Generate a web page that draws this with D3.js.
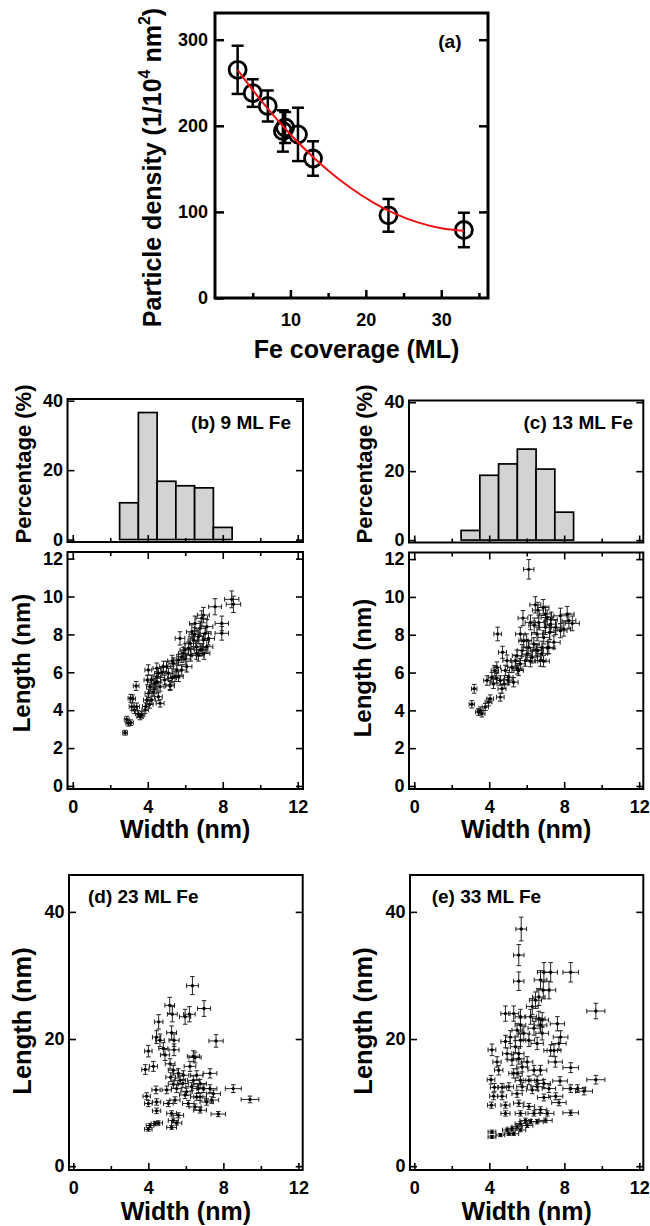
<!DOCTYPE html>
<html><head><meta charset="utf-8">
<script src="https://cdn.jsdelivr.net/npm/d3@7/dist/d3.min.js"></script>
<style>
body{margin:0;background:#fff}
svg text{font-family:"Liberation Sans",Arial,Helvetica,sans-serif;font-weight:bold;fill:#000}
</style></head><body>
<svg id="chart" width="650" height="1226"></svg>
<script>
// ---------- DATA ----------
// (a) particle density vs Fe coverage
const coverageML = [3, 5, 7, 9, 9.3, 11, 13, 23, 33];
const densityVal = [265, 238, 223, 194, 198, 190, 162, 96, 79];
const densityErr = [28, 16, 18, 24, 18, 31, 20, 19, 20];
const fitCoverage = [3, 5, 7, 9, 11, 13, 15, 18, 21, 24, 27, 30, 33];
const fitDensity = [265, 241.6, 219.9, 199.6, 180.9, 163.8, 148.2, 127.8, 110.9, 97.5, 87.5, 81.1, 78.2];
const densityTicks = [0, 100, 200, 300];
const coverageTicks = [10, 20, 30];
const coverageMinor = [5, 15, 25, 35];

// width histograms (bin centre in nm, percentage)
const histBins9 = [1, 2, 3, 4, 5, 6, 7, 8, 9];
const histPct9 = [0, 0, 10.6, 36.6, 16.8, 15.5, 14.9, 3.5, 0];
const histBins13 = [1, 2, 3, 4, 5, 6, 7, 8, 9, 10];
const histPct13 = [0, 0, 2.8, 18.8, 22.1, 26.4, 20.6, 8.1, 0, 0];
const pctTicks = [0, 20, 40];

const widthTicks = [0, 4, 8, 12];
const widthMinor = [2, 6, 10];
const lengthTicksSmall = [0, 2, 4, 6, 8, 10, 12];
const lengthTicksLarge = [0, 20, 40];

// relative measurement uncertainty on width & length
const relErrSmall = 0.045;
const relErrLarge = 0.05;

// (b) 9 ML Fe : [width, length] nm
const points9 = [
[2.79,2.81],[2.88,3.52],[2.97,3.31],[3.09,3.34],[3.09,4.63],[3.38,5.28],
[3.15,4.19],[3.41,4.19],[3.68,3.75],[3.59,3.66],[3.86,4.01],
[4.03,6.12],[4.48,6.21],
[3.95,4.54],[4.04,4.89],[4.12,5.24],[3.98,5.59],[4.30,4.96],[4.39,5.42],[4.48,5.77],[4.57,5.95],[4.21,4.54],[4.57,4.71],[4.66,5.24],[4.66,4.36],
[4.84,6.30],[5.10,5.95],[5.19,5.33],[5.46,5.77],[5.55,6.12],[5.37,6.47],[5.64,6.65],[5.81,6.82],[5.81,6.12],[5.90,7.00],[5.72,7.79],[5.99,7.18],[6.08,6.30],[6.17,7.27],[6.26,7.53],[6.35,8.14],[6.44,7.70],[6.52,8.58],[6.61,7.35],[6.70,7.88],[6.79,8.32],[6.79,7.18],[6.88,8.85],[6.97,7.70],[6.97,9.02],[7.06,8.06],[7.15,7.35],[7.24,7.79],[7.15,8.41],
[7.59,9.46],[7.95,8.58],[7.95,8.06],[8.48,9.85],[8.57,9.59],[5.64,5.77],[5.19,5.28],
[4.2,5.6],[4.35,5.1],[4.5,5.5],[4.1,4.3],[3.9,4.2],[4.75,6.0],[5.0,6.3],[5.3,6.6],[6.6,7.0],[6.9,7.2],[7.0,7.0],[6.7,6.9],[6.5,8.0],[6.3,6.9],[6.0,6.7],[4.9,5.6],[5.3,5.7],[3.3,4.0],[3.2,4.6],[3.5,3.8]
];
// (c) 13 ML Fe
const points13 = [
[6.11,11.46],[4.45,8.04],[4.71,7.07],[3.20,5.14],[3.07,4.32],
[3.43,3.91],[3.61,3.82],[3.52,4.0],[3.79,4.18],[3.96,4.44],[4.05,4.61],
[3.88,5.58],[4.14,5.75],[4.41,6.28],[4.23,5.40],[4.59,5.58],[4.68,5.14],[4.59,4.70],[4.86,6.11],[4.95,6.63],[5.04,5.75],[5.21,6.28],[5.30,5.49],[5.39,6.63],[5.48,6.89],[5.57,6.11],[5.66,6.46],[5.66,8.04],[5.75,7.16],[5.80,8.88],[5.84,7.68],[5.93,6.63],[6.02,6.98],[6.11,7.33],[6.20,8.65],[6.29,6.81],[6.38,7.51],[6.46,9.58],[6.55,8.04],[6.59,7.16],[6.64,8.65],[6.73,6.63],[6.82,7.33],[6.88,9.44],[6.91,7.86],[7.00,8.39],[7.09,8.91],[7.18,7.33],[7.23,8.12],[7.27,8.56],[7.45,7.60],[7.54,8.39],[7.80,9.00],[7.98,8.30],[8.16,9.09],[8.25,8.74],[8.43,8.60],[7.80,8.21],
[6.8,7.0],[6.9,6.6],[7.1,7.3],[6.5,7.2],[6.2,6.6],[5.5,6.2],[5.0,5.6],[4.8,5.4],[4.4,5.7],[4.3,6.1],[7.3,8.8],[7.0,9.1],[6.6,9.3],[6.4,8.5],[6.0,7.7]
];
// (d) 23 ML Fe
const points23 = [
[6.35,28.4],[5.14,25.3],[5.28,23.9],[5.96,23.5],[6.19,23.9],[6.97,24.8],
[4.55,22.7],[4.44,20.3],[4.62,19.8],[4.0,18.1],[5.24,21.0],[5.37,19.8],[5.37,18.3],[4.80,18.5],[4.89,17.5],[7.61,19.7],
[3.84,15.2],[4.27,15.7],[6.40,17.3],[6.49,17.1],[6.22,15.7],[5.16,16.1],[5.33,15.1],
[7.29,14.6],[8.53,12.2],[9.42,10.5],[7.73,8.2],[6.76,8.8],
[3.91,11.0],[4.0,9.86],[4.41,12.0],[4.44,10.1],[4.98,12.0],[5.07,9.86],[5.42,10.4],[5.51,12.2],[5.69,13.5],[5.87,14.3],[5.60,14.6],[6.04,11.7],[6.31,12.5],[6.58,14.3],[6.67,12.2],[6.76,10.9],[6.93,12.2],[7.29,12.2],[7.38,10.4],[7.47,11.4],[7.11,10.1],[6.13,9.86],[6.49,9.33],[5.33,12.9],[5.19,14.0],[5.84,13.0],[6.40,13.5],[6.76,13.0],[5.96,11.2],[6.58,10.9],
[4.09,6.4],[4.36,6.7],[4.53,6.8],[4.0,5.8],[5.24,8.3],[5.33,7.2],[5.60,8.0],[5.24,6.1],[5.51,6.8],[4.44,8.7]
];
// (e) 33 ML Fe
const points33 = [
[5.70,37.3],[5.57,33.2],[5.57,29.1],[8.34,30.5],[9.68,24.4],[9.68,13.6],
[6.91,30.5],[7.27,30.5],[6.73,29.3],[6.88,27.7],[7.18,27.7],[6.64,26.6],[6.46,26.1],[6.29,25.1],
[4.86,24.0],[5.30,24.0],[5.66,23.5],[6.20,23.5],[6.64,23.2],[6.82,23.0],[7.63,22.4],[7.80,20.3],[7.71,19.3],[7.45,18.2],[7.27,18.2],[7.52,16.4],[8.34,15.5],
[4.14,18.3],[4.86,19.6],[5.12,20.3],[5.48,21.4],[5.84,20.9],[6.11,19.8],[6.55,19.3],[6.82,20.9],[6.38,21.7],[6.73,22.2],[5.66,22.2],
[4.41,16.4],[4.50,15.1],[4.95,17.7],[5.21,16.7],[5.57,16.9],[5.75,15.6],[6.02,16.4],[6.38,15.1],[6.73,15.1],[5.48,14.6],[5.66,13.5],[6.11,13.5],[6.55,13.5],[6.91,13.0],[7.18,12.2],[7.77,13.4],[8.34,12.2],[8.70,12.2],[9.05,11.8],
[4.09,13.6],[4.27,12.4],[4.68,12.4],[5.04,12.5],[4.23,11.0],[4.68,11.0],[5.48,11.4],[6.29,12.0],[6.55,12.5],[6.91,10.8],[7.54,11.0],[7.71,10.0],
[4.11,9.6],[4.86,9.6],[4.86,8.3],[5.57,9.9],[6.11,9.4],[6.73,8.9],[7.09,8.3],[8.34,8.4],
[4.14,5.4],[4.14,4.6],[4.59,4.9],[4.95,5.7],[5.21,5.9],[5.48,6.2],[5.66,6.7],[5.93,7.2],[6.20,7.0],[6.55,7.0],[7.00,7.2],[5.30,5.1],[5.66,5.7],[6.02,6.4],[5.04,5.1],[6.38,8.3],[5.66,8.3],
[5.39,18.8],[5.57,17.7],[5.30,14.6],[5.75,12.5],[5.66,19.8]
];

// ---------- DRAWING ----------
const svg = d3.select("#chart");
const TICK_FS = 18;

function styleAxis(g, fs) {
  g.attr("font-family", null).attr("font-size", null);
  g.select(".domain").remove();
  g.selectAll("text").style("font-size", fs + "px");
}

function frame(box, sw) {
  svg.append("rect").attr("x", box.l).attr("y", box.t)
    .attr("width", box.r - box.l).attr("height", box.b - box.t)
    .attr("fill", "none").attr("stroke", "#000").attr("stroke-width", sw);
}

// ---- Panel (a) ----
(function () {
  const box = {l: 215, r: 488, t: 13, b: 298};
  const x = d3.scaleLinear().domain([0, 36.2]).range([box.l, box.r]);
  const y = d3.scaleLinear().domain([0, 331]).range([box.b, box.t]);
  const tw = 2.5;
  let g = svg.append("g").attr("transform", `translate(0,${box.b})`)
    .call(d3.axisBottom(x).tickValues(coverageTicks).tickSize(-8).tickPadding(15).tickFormat(d3.format("d")));
  styleAxis(g, TICK_FS); g.selectAll("line").attr("stroke-width", tw);
  g = svg.append("g").attr("transform", `translate(0,${box.b})`)
    .call(d3.axisBottom(x).tickValues(coverageMinor).tickSize(-5).tickFormat(""));
  styleAxis(g, TICK_FS); g.selectAll("line").attr("stroke-width", tw);
  g = svg.append("g").attr("transform", `translate(${box.l},0)`)
    .call(d3.axisLeft(y).tickValues(densityTicks).tickSize(-9).tickPadding(7).tickFormat(d3.format("d")));
  styleAxis(g, TICK_FS); g.selectAll("line").attr("stroke-width", tw);
  g = svg.append("g").attr("transform", `translate(${box.r},0)`)
    .call(d3.axisRight(y).tickValues(densityTicks.slice(1)).tickSize(-9).tickFormat(""));
  styleAxis(g, TICK_FS); g.selectAll("line").attr("stroke-width", tw);

  // error bars
  const eb = svg.append("g").attr("stroke", "#000").attr("stroke-width", 2.5);
  coverageML.forEach((c, i) => {
    const cx = x(c), v = densityVal[i], e = densityErr[i];
    eb.append("line").attr("x1", cx).attr("x2", cx).attr("y1", y(v + e)).attr("y2", y(v - e));
    eb.append("line").attr("x1", cx - 6).attr("x2", cx + 6).attr("y1", y(v + e)).attr("y2", y(v + e));
    eb.append("line").attr("x1", cx - 6).attr("x2", cx + 6).attr("y1", y(v - e)).attr("y2", y(v - e));
  });
  svg.append("g").selectAll("circle").data(coverageML).join("circle")
    .attr("cx", d => x(d)).attr("cy", (d, i) => y(densityVal[i])).attr("r", 8.5)
    .attr("fill", "none").attr("stroke", "#000").attr("stroke-width", 2.8);
  const line = d3.line().x(d => x(d[0])).y(d => y(d[1])).curve(d3.curveMonotoneX);
  svg.append("path").datum(fitCoverage.map((c, i) => [c, fitDensity[i]]))
    .attr("d", line).attr("fill", "none").attr("stroke", "#ee1111").attr("stroke-width", 2);
  frame(box, 3);

  svg.append("text").attr("x", 461.5).attr("y", 48).attr("text-anchor", "end")
    .style("font-size", "19px").text("(a)");
  svg.append("text").attr("x", 356.5).attr("y", 358).attr("text-anchor", "middle")
    .style("font-size", "25px").text("Fe coverage (ML)");
  const yl = svg.append("text").attr("transform", "translate(161,167.5) rotate(-90)")
    .attr("text-anchor", "middle").style("font-size", "25px");
  yl.append("tspan").text("Particle density (1/10");
  yl.append("tspan").attr("dy", -11).style("font-size", "16px").text("4");
  yl.append("tspan").attr("dy", 11).text(" nm");
  yl.append("tspan").attr("dy", -11).style("font-size", "16px").text("2");
  yl.append("tspan").attr("dy", 11).text(")");
})();

// ---- generic axis builder for b-e ----
function axes(x, y, box, yTicks, yLabels, opts) {
  const tl = 7, tm = 4;
  let g = svg.append("g").attr("transform", `translate(0,${box.b})`)
    .call(d3.axisBottom(x).tickValues(widthTicks).tickSize(-tl).tickPadding(opts.xPad)
      .tickFormat(opts.xLabels ? d3.format("d") : ""));
  styleAxis(g, TICK_FS); g.selectAll("line").attr("stroke-width", 1.6);
  g = svg.append("g").attr("transform", `translate(0,${box.b})`)
    .call(d3.axisBottom(x).tickValues(widthMinor).tickSize(-tm).tickFormat(""));
  styleAxis(g, TICK_FS); g.selectAll("line").attr("stroke-width", 1.6);
  if (opts.top) {
    g = svg.append("g").attr("transform", `translate(0,${box.t})`)
      .call(d3.axisTop(x).tickValues(widthTicks).tickSize(-tl).tickFormat(""));
    styleAxis(g, TICK_FS); g.selectAll("line").attr("stroke-width", 1.6);
    g = svg.append("g").attr("transform", `translate(0,${box.t})`)
      .call(d3.axisTop(x).tickValues(widthMinor).tickSize(-tm).tickFormat(""));
    styleAxis(g, TICK_FS); g.selectAll("line").attr("stroke-width", 1.6);
  }
  g = svg.append("g").attr("transform", `translate(${box.l},0)`)
    .call(d3.axisLeft(y).tickValues(yTicks).tickSize(-tl).tickPadding(4.5)
      .tickFormat(d => yLabels.includes(d) ? d : ""));
  styleAxis(g, TICK_FS); g.selectAll("line").attr("stroke-width", 1.6);
  g = svg.append("g").attr("transform", `translate(${box.r},0)`)
    .call(d3.axisRight(y).tickValues(yTicks).tickSize(-tl).tickFormat(""));
  styleAxis(g, TICK_FS); g.selectAll("line").attr("stroke-width", 1.6);
}

function histogram(box, xDom, bins, pct, label, lx) {
  const x = d3.scaleLinear().domain(xDom).range([box.l, box.r]);
  const y = d3.scaleLinear().domain([-0.7, 40.5]).range([box.b, box.t]);
  svg.append("g").selectAll("rect").data(bins).join("rect")
    .attr("x", d => x(d - 0.5)).attr("width", d => x(d + 0.5) - x(d - 0.5))
    .attr("y", (d, i) => y(pct[i])).attr("height", (d, i) => y(0) - y(pct[i]))
    .attr("fill", "#d3d3d3").attr("stroke", "#000").attr("stroke-width", 1.7);
  axes(x, y, box, pctTicks, pctTicks, {xPad: 0, xLabels: false, top: false});
  frame(box, 2);
  svg.append("text").attr("x", lx).attr("y", 429).attr("text-anchor", "end")
    .style("font-size", "19px").text(label);
  svg.append("text").attr("transform", `translate(${box.l - 37},464) rotate(-90)`)
    .attr("text-anchor", "middle").style("font-size", "22px").text("Percentage (%)");
}

function scatter(box, xDom, yDom, pts, relErr, yTicks, yLabels, opts) {
  const x = d3.scaleLinear().domain(xDom).range([box.l, box.r]);
  const y = d3.scaleLinear().domain(yDom).range([box.b, box.t]);
  const cap = 2.3;
  const g = svg.append("g").attr("stroke", "#222").attr("stroke-width", 1);
  pts.forEach(([w, l]) => {
    const px = x(w), py = y(l);
    const x0 = x(w * (1 - relErr)), x1 = x(w * (1 + relErr));
    const y0 = y(l * (1 - relErr)), y1 = y(l * (1 + relErr));
    g.append("line").attr("x1", x0).attr("x2", x1).attr("y1", py).attr("y2", py);
    g.append("line").attr("x1", x0).attr("x2", x0).attr("y1", py - cap).attr("y2", py + cap);
    g.append("line").attr("x1", x1).attr("x2", x1).attr("y1", py - cap).attr("y2", py + cap);
    g.append("line").attr("x1", px).attr("x2", px).attr("y1", y0).attr("y2", y1);
    g.append("line").attr("x1", px - cap).attr("x2", px + cap).attr("y1", y0).attr("y2", y0);
    g.append("line").attr("x1", px - cap).attr("x2", px + cap).attr("y1", y1).attr("y2", y1);
  });
  svg.append("g").selectAll("circle").data(pts).join("circle")
    .attr("cx", d => x(d[0])).attr("cy", d => y(d[1])).attr("r", 1.7).attr("fill", "#000");
  axes(x, y, box, yTicks, yLabels, {xPad: 11, xLabels: true, top: opts.top});
  frame(box, 2);
  svg.append("text").attr("x", (box.l + box.r) / 2).attr("y", opts.xlabY).attr("text-anchor", "middle")
    .style("font-size", "25px").text("Width (nm)");
  svg.append("text").attr("transform", `translate(${box.l - 38},${opts.ylabC}) rotate(-90)`)
    .attr("text-anchor", "middle").style("font-size", opts.ylabFs + "px").text("Length (nm)");
  if (opts.label) {
    svg.append("text").attr("x", opts.label[1]).attr("y", 903).attr("text-anchor", "start")
      .style("font-size", "19px").text(opts.label[0]);
  }
}

// (b)
histogram({l: 67.5, r: 303, t: 399, b: 542}, [-0.28, 12.28], histBins9, histPct9, "(b) 9 ML Fe", 291);
scatter({l: 67.5, r: 303, t: 552, b: 789}, [-0.28, 12.28], [-0.16, 12.35], points9, relErrSmall,
  lengthTicksSmall, lengthTicksSmall, {top: true, xlabY: 838, ylabC: 663, ylabFs: 24});
// (c)
histogram({l: 409, r: 643.3, t: 400.5, b: 542.5}, [-0.28, 12.22], histBins13, histPct13, "(c) 13 ML Fe", 633);
scatter({l: 409, r: 643.3, t: 552.5, b: 789}, [-0.28, 12.22], [-0.16, 12.35], points13, relErrSmall,
  lengthTicksSmall, lengthTicksSmall, {top: true, xlabY: 838, ylabC: 668, ylabFs: 24});
// (d)
scatter({l: 69, r: 302.7, t: 875, b: 1170}, [-0.23, 12.23], [-0.6, 45.8], points23, relErrLarge,
  lengthTicksLarge, lengthTicksLarge, {top: false, xlabY: 1220, ylabC: 1021, ylabFs: 25.5, label: ["(d) 23 ML Fe", 88]});
// (e)
scatter({l: 410, r: 643.3, t: 875, b: 1170}, [-0.23, 12.21], [-0.6, 45.8], points33, relErrLarge,
  lengthTicksLarge, lengthTicksLarge, {top: false, xlabY: 1220, ylabC: 1021, ylabFs: 25.5, label: ["(e) 33 ML Fe", 431.7]});
</script>
</body></html>
